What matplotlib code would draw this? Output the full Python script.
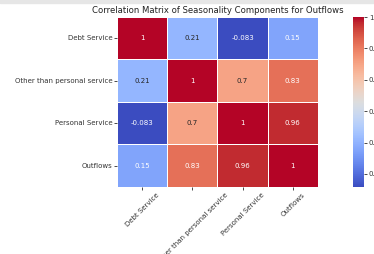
import numpy as np
import pandas as pd
import matplotlib
matplotlib.use("Agg")
import matplotlib.pyplot as plt
import seaborn as sns

# components of the outflows series
labels = ["Debt Service", "Other than personal service", "Personal Service", "Outflows"]

# correlation values
debt_service = [1, 0.21, -0.083, 0.15]
otps = [0.21, 1, 0.7, 0.83]
personal_service = [-0.083, 0.7, 1, 0.96]
outflows = [0.15, 0.83, 0.96, 1]

corr = pd.DataFrame([debt_service, otps, personal_service, outflows],
                    index=labels, columns=labels)

fig = plt.figure(figsize=(3.74, 2.54), dpi=100)
ax = fig.add_axes([0.313, 0.264, 0.537, 0.669])
cax = fig.add_axes([0.944, 0.264, 0.029, 0.669])

sns.heatmap(corr, annot=True, cmap="coolwarm", linewidths=0.5,
            annot_kws={"size": 5}, ax=ax, cbar_ax=cax)

ax.set_title("Correlation Matrix of Seasonality Components for Outflows",
             fontsize=6.1, pad=3, color="#222222")
ax.tick_params(axis="both", labelsize=5, length=2, width=0.5, pad=1.5,
               labelcolor="#333333")
plt.setp(ax.get_xticklabels(), rotation=45)
plt.setp(ax.get_yticklabels(), rotation=0)
cax.tick_params(labelsize=5, length=2, width=0.5, pad=1.5, labelcolor="#333333")
cax.set_yticks([0.0, 0.2, 0.4, 0.6, 0.8, 1.0])

# grey strip along the top of the screenshot
fig.patches.append(plt.Rectangle((0, 0.988), 1, 0.012, transform=fig.transFigure,
                                 color="#e6e6e6", zorder=0))

fig.savefig("out.png", dpi=100)
